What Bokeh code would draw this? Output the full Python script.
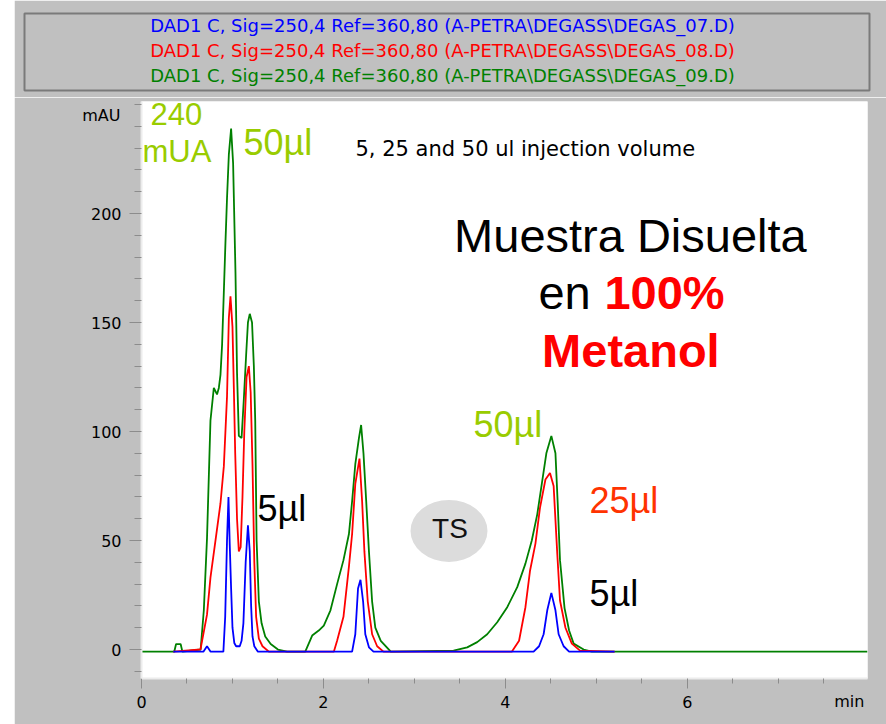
from bokeh.plotting import figure
from bokeh.layouts import column, row
from bokeh.models import Label, FixedTicker, Range1d, Spacer, LinearAxis
from bokeh.embed import file_html
from bokeh.resources import INLINE

# ---------------- data ----------------
header_lines = [
    "DAD1 C, Sig=250,4 Ref=360,80 (A-PETRA\\DEGASS\\DEGAS_07.D)",
    "DAD1 C, Sig=250,4 Ref=360,80 (A-PETRA\\DEGASS\\DEGAS_08.D)",
    "DAD1 C, Sig=250,4 Ref=360,80 (A-PETRA\\DEGASS\\DEGAS_09.D)",
]
header_colors = ["#0000ff", "#ff0000", "#008000"]

# 50 ul injection (green)
green_t = [0.0, 0.36, 0.38, 0.43, 0.45, 0.65, 0.685, 0.72, 0.758, 0.795, 0.83, 0.85,
           0.868, 0.886, 0.905, 0.923, 0.94, 0.96, 0.985, 1.007, 1.033, 1.05, 1.07,
           1.10, 1.125, 1.15, 1.17, 1.19, 1.215, 1.235, 1.25, 1.265, 1.29, 1.32, 1.36,
           1.42, 1.5, 1.6, 1.80, 1.876, 1.948, 2.004, 2.077, 2.15, 2.22, 2.28, 2.315,
           2.35, 2.39, 2.414, 2.44, 2.47, 2.50, 2.535, 2.57, 2.63, 2.74, 3.43, 3.58,
           3.69, 3.80, 3.91, 4.02, 4.13, 4.22, 4.29, 4.35, 4.40, 4.45, 4.505, 4.55,
           4.575, 4.60, 4.65, 4.70, 4.75, 4.86, 4.95, 7.98]
green_v = [-1, -1, 2.5, 2.5, -1, 0, 18, 51, 105, 120, 117, 120,
           126, 140, 164, 187, 207, 227, 239, 223, 173, 127, 98,
           97, 115, 135, 150, 154, 150, 130, 105, 50, 22, 12, 6,
           2.5, 0, -1, -1, 6.4, 8.7, 11, 18, 30, 41, 53, 68,
           85, 97, 103, 90, 68, 45, 22, 10, 4, -1, -0.5, 1,
           3.4, 7, 12.5, 19.4, 28.6, 39.4, 50, 62, 76, 90, 98, 90,
           67, 41, 19, 8.7, 2.7, 0, -1, -1]

# 25 ul injection (red)
red_t = [0.35, 0.648, 0.72, 0.758, 0.813, 0.868, 0.905, 0.94, 0.96, 0.978, 1.0,
         1.015, 1.03, 1.05, 1.07, 1.09, 1.11, 1.13, 1.155, 1.18, 1.20, 1.22, 1.24,
         1.26, 1.29, 1.33, 1.40, 2.114, 2.15, 2.22, 2.28, 2.315, 2.35, 2.396, 2.425,
         2.45, 2.487, 2.535, 2.59, 2.66, 4.07, 4.15, 4.22, 4.27, 4.33, 4.38, 4.44,
         4.49, 4.53, 4.57, 4.60, 4.66, 4.73, 4.82, 5.20]
red_v = [-1, 0, 16, 33, 50, 67, 84, 116, 152, 162, 148,
         120, 90, 60, 45, 47, 70, 100, 125, 130, 118, 85, 40,
         15, 5, 1.5, -1, -1, 4, 15, 38, 53, 76, 87.6, 68,
         45, 22, 7, 1.5, -1, -1, 4, 19.4, 36, 48.6, 65, 78,
         81, 75, 44, 22.5, 10, 2.7, -0.5, -1]

# 5 ul injection (blue)
blue_t = [0.35, 0.68, 0.72, 0.76, 0.90, 0.92, 0.94, 0.956, 0.97, 0.985, 1.0, 1.02,
          1.04, 1.08, 1.10, 1.12, 1.145, 1.17, 1.19, 1.205, 1.22, 1.24, 1.28,
          2.315, 2.35, 2.38, 2.407, 2.436, 2.46, 2.50, 2.55,
          4.31, 4.37, 4.42, 4.46, 4.505, 4.55, 4.585, 4.64, 4.70, 5.20]
blue_v = [-1, -1, 1.5, -1, -1, 15, 50, 70, 48, 28, 10, 3,
          1.5, 1.5, 4, 12, 40, 57, 45, 20, 6, 1.5, -1,
          -1, 7, 28, 32, 22, 7, 1, -1,
          -1, 1.5, 7, 18, 26, 18, 7, 1.5, -1, -1]

x_ticks = [0, 2, 4, 6]
x_minor = [0.5, 1, 1.5, 2.5, 3, 3.5, 4.5, 5, 5.5, 6.5, 7, 7.5]
x_unit_pos = 7.78          # where the "min" unit label sits on the time axis
y_ticks = [0, 50, 100, 150, 200]
y_minor = [-10, 10, 20, 30, 40, 60, 70, 80, 90, 110, 120, 130, 140,
           160, 170, 180, 190, 210, 220, 230, 240, 250]
y_unit_pos = 245           # where the "mAU" unit label sits on the signal axis

# ---------------- styling ----------------
GRAY = "#c0c0c0"
LIME = "#99cc00"
TICKFONT = "DejaVu Sans"
ARIAL = "Liberation Sans"

# header panel
hdr = figure(width=872, height=97, x_range=Range1d(0, 1), y_range=Range1d(0, 1),
             x_axis_location=None, y_axis_location=None, toolbar_location=None,
             output_backend="svg", min_border_left=10, min_border_right=17,
             min_border_top=13, min_border_bottom=7,
             background_fill_color=GRAY, border_fill_color=GRAY,
             outline_line_color="#7a7a7a", outline_line_width=2)
hdr.xgrid.visible = False
hdr.ygrid.visible = False
for i, (txt, col) in enumerate(zip(header_lines, header_colors)):
    hdr.add_layout(Label(x=0.4947, y=0.844 - i * 0.3247, text=txt, text_align="center",
                         text_baseline="middle", text_font=TICKFONT,
                         text_font_size="18px", text_color=col))

# main chart
p = figure(width=872, height=627, x_range=Range1d(0, 7.98), y_range=Range1d(-13.3, 251.4),
           toolbar_location=None, output_backend="svg",
           min_border_left=127, min_border_right=19, min_border_top=4, min_border_bottom=46,
           background_fill_color="white", border_fill_color=GRAY,
           outline_line_color=None)
p.xgrid.visible = False
p.ygrid.visible = False

xa = p.xaxis[0]
ya = p.yaxis[0]
xa.ticker = FixedTicker(ticks=x_ticks, minor_ticks=x_minor)
ya.ticker = FixedTicker(ticks=y_ticks, minor_ticks=y_minor)
for ax in (xa, ya):
    ax.axis_line_color = "#ececec"
    ax.axis_line_width = 2
    ax.major_tick_line_color = "#8c8c8c"
    ax.minor_tick_line_color = "#8c8c8c"
    ax.major_tick_in = 0
    ax.minor_tick_in = 0
    ax.major_label_text_font = TICKFONT
    ax.major_label_text_font_size = "16px"
    ax.major_label_text_color = "#000000"
xa.major_tick_out = 10
xa.minor_tick_out = 5
xa.major_label_standoff = 7
ya.major_tick_out = 12
ya.minor_tick_out = 7
ya.major_label_standoff = 8

# unit names, drawn as tick labels of two bare axes pulled back next to the numbers
unit_style = dict(axis_line_color=None, major_tick_line_color=None, minor_tick_line_color=None,
                  major_tick_out=0, major_tick_in=0, minor_tick_out=0, minor_tick_in=0,
                  major_label_text_font=TICKFONT, major_label_text_font_size="16px",
                  major_label_text_color="#000000")
yunit = LinearAxis(ticker=FixedTicker(ticks=[y_unit_pos], minor_ticks=[]),
                   major_label_overrides={y_unit_pos: "mAU"}, major_label_standoff=-33,
                   **unit_style)
xunit = LinearAxis(ticker=FixedTicker(ticks=[x_unit_pos], minor_ticks=[]),
                   major_label_overrides={x_unit_pos: "min"}, major_label_standoff=-19,
                   **unit_style)
p.add_layout(yunit, "left")
p.add_layout(xunit, "below")

p.line(green_t, green_v, line_color="#008000", line_width=1.8)
p.line(red_t, red_v, line_color="#ff0000", line_width=1.8)
p.line(blue_t, blue_v, line_color="#0000ff", line_width=1.8)

p.ellipse(x=[3.38], y=[54.4], width=0.846, height=28.4, fill_color="#dcdcdc", line_color=None)

def lab(x, y, text, size, color, font=ARIAL, align="left", style="normal"):
    p.add_layout(Label(x=x, y=y, text=text, text_align=align, text_baseline="middle",
                       text_font=font, text_font_size=size, text_color=color,
                       text_font_style=style))

lab(0.099, 245.6, "240", "31px", LIME)
lab(0.011, 228.4, "mUA", "31px", LIME)
lab(1.121, 232.8, "50\u00b5l", "36px", LIME)
lab(2.352, 229.6, "5, 25 and 50 ul injection volume", "21px", "#000000", font=TICKFONT)
lab(5.374, 190.1, "Muestra Disuelta", "47px", "#000000", align="center")
lab(4.363, 163.8, "en", "47px", "#000000")
lab(5.088, 163.8, "100%", "47px", "#ff0000", style="bold")
lab(5.379, 137.4, "Metanol", "47px", "#ff0000", align="center", style="bold")
lab(3.648, 103.0, "50\u00b5l", "36px", LIME)
lab(4.923, 68.3, "25\u00b5l", "36px", "#ff3300")
lab(1.275, 64.7, "5\u00b5l", "36px", "#000000")
lab(4.923, 25.9, "5\u00b5l", "36px", "#000000")
lab(3.39, 55.3, "TS", "28px", "#111111", align="center")

left_pad = Spacer(width=14, height=724)
layout = row(left_pad, column(row(hdr), p, spacing=0), spacing=0)

open("out.html", "w").write(file_html(layout, INLINE))
